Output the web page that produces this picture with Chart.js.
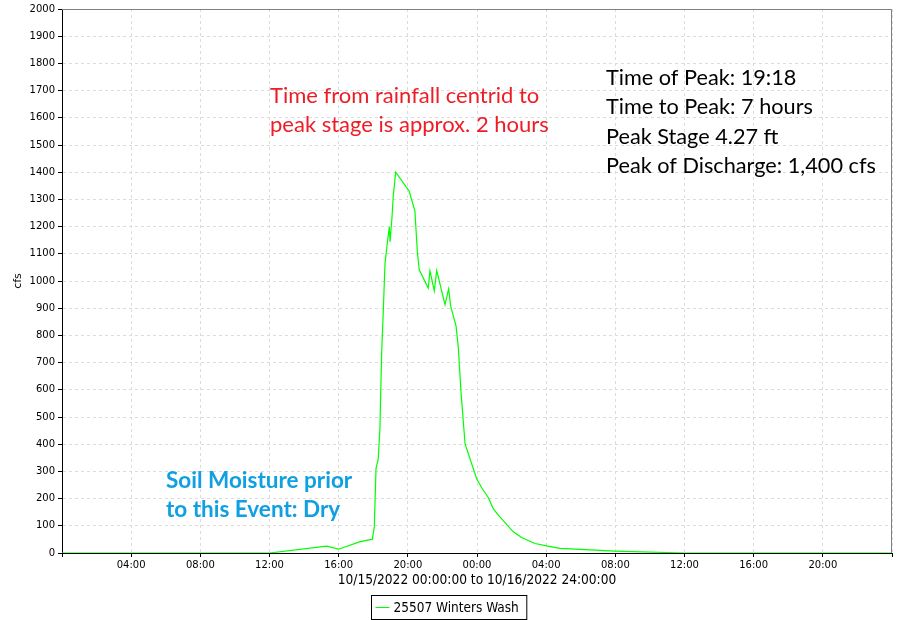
<!DOCTYPE html>
<html lang="en">
<head>
  <meta charset="UTF-8">
  <title>25507 Winters Wash – discharge</title>
  <script src="https://cdn.jsdelivr.net/npm/chart.js"></script>
  <style>
    body { margin: 0; background: #fff; }
  </style>
</head>
<body>
  <canvas id="flowChart" width="900" height="620"></canvas>

  <script>
    // hours since 10/15/2022 00:00, discharge in cfs
    const hours = [0, 12.0, 15.3, 16.0, 17.2, 17.95, 18.06, 18.16, 18.29, 18.39, 18.43, 18.49, 18.58, 18.68,
      18.81, 18.93, 18.97, 19.08, 19.16, 19.3, 20.08, 20.41, 20.55, 20.66, 21.18, 21.28, 21.53, 21.67,
      22.15, 22.36, 22.48, 22.79, 22.92, 23.07, 23.31, 23.98, 24.27, 24.65, 24.94, 25.23, 26.1, 26.58,
      27.35, 28.03, 28.8, 29.96, 31.98, 36.0, 48];
    const flow = [0, 0, 25, 14, 41, 51, 96, 310, 347, 462, 585, 742, 888, 1065,
      1138, 1199, 1144, 1230, 1315, 1400, 1330, 1257, 1108, 1041, 974, 1037, 964, 1038,
      913, 971, 907, 834, 754, 596, 401, 273, 240, 204, 163, 139, 78, 57,
      35, 26, 17, 13, 7, 0, 0];

    const xTickLabels = ['', '04:00', '08:00', '12:00', '16:00', '20:00', '00:00',
      '04:00', '08:00', '12:00', '16:00', '20:00', ''];
    const seriesName = '25507 Winters Wash';
    const xTitle = '10/15/2022 00:00:00 to 10/16/2022 24:00:00';

    const peakNotes = ['Time of Peak: 19:18', 'Time to Peak: 7 hours', 'Peak Stage 4.27 ft', 'Peak of Discharge: 1,400 cfs'];
    const rainNotes = ['Time from rainfall centrid to', 'peak stage is approx. 2 hours'];
    const soilNotes = ['Soil Moisture prior', 'to this Event: Dry'];

    const lineColor = '#00ff00';

    // frame, notes and boxed legend
    const extras = {
      id: 'extras',
      afterDraw(chart) {
        const { ctx, chartArea: a } = chart;
        ctx.save();

        ctx.strokeStyle = '#808080';
        ctx.lineWidth = 1;
        ctx.beginPath();
        ctx.moveTo(a.left, a.top + 0.5);
        ctx.lineTo(a.right - 0.5, a.top + 0.5);
        ctx.lineTo(a.right - 0.5, a.bottom);
        ctx.stroke();

        ctx.textBaseline = 'middle';
        ctx.textAlign = 'left';

        ctx.fillStyle = '#000';
        ctx.font = '21.7px Lato';
        peakNotes.forEach((t, i) => ctx.fillText(t, 606, 78 + i * 29.5));

        ctx.fillStyle = '#ee1c25';
        ctx.font = '22px Lato';
        rainNotes.forEach((t, i) => ctx.fillText(t, 270, 96 + i * 28.5));

        ctx.fillStyle = '#10a0e2';
        ctx.font = 'bold 22.5px Lato';
        soilNotes.forEach((t, i) => ctx.fillText(t, 166, 481 + i * 29));

        // legend
        ctx.font = '13.5px "DejaVu Sans Condensed"';
        const tw = ctx.measureText(seriesName).width;
        const bw = tw + 30;
        const bx = Math.round(449 - bw / 2) + 0.5;
        const by = 595.5;
        ctx.strokeStyle = '#000';
        ctx.strokeRect(bx, by, bw, 24);
        ctx.strokeStyle = lineColor;
        ctx.beginPath();
        ctx.moveTo(bx + 4, by + 12);
        ctx.lineTo(bx + 18, by + 12);
        ctx.stroke();
        ctx.fillStyle = '#000';
        ctx.fillText(seriesName, bx + 22, by + 12.5);

        ctx.restore();
      }
    };

    new Chart(document.getElementById('flowChart'), {
      type: 'line',
      data: {
        datasets: [{
          label: seriesName,
          data: hours.map((h, i) => ({ x: h, y: flow[i] })),
          borderColor: lineColor,
          borderWidth: 1.2,
          pointRadius: 0,
          tension: 0,
          fill: false
        }]
      },
      options: {
        responsive: false,
        animation: false,
        layout: { padding: { top: 6, right: 8, left: 0, bottom: 31 } },
        plugins: {
          legend: { display: false },
          tooltip: { enabled: false }
        },
        scales: {
          x: {
            type: 'linear',
            min: 0,
            max: 48,
            afterFit: s => { s.height = 36; },
            ticks: {
              stepSize: 4,
              autoSkip: false,
              maxRotation: 0,
              padding: 2,
              color: '#000',
              font: { family: 'DejaVu Sans', size: 10 },
              callback: v => xTickLabels[Math.round(v / 4)]
            },
            grid: { color: '#dcdcdc', tickColor: '#000', tickLength: 4 },
            border: { color: '#000', width: 1, dash: [3, 3] },
            title: {
              display: true,
              text: xTitle,
              color: '#000',
              padding: { top: 0, bottom: 0 },
              font: { family: 'DejaVu Sans Condensed', size: 13.6 }
            }
          },
          y: {
            min: 0,
            max: 2000,
            afterFit: s => { s.width = 62; },
            ticks: {
              stepSize: 100,
              padding: 3,
              color: '#000',
              font: { family: 'DejaVu Sans', size: 10 },
              callback: v => String(v)
            },
            grid: { color: '#dcdcdc', tickColor: '#000', tickLength: 4 },
            border: { color: '#000', width: 1, dash: [3, 3] },
            title: {
              display: true,
              text: 'cfs',
              color: '#000',
              padding: { top: 12, bottom: 0 },
              font: { family: 'DejaVu Sans', size: 11 }
            }
          }
        }
      },
      plugins: [extras]
    });
  </script>
</body>
</html>
